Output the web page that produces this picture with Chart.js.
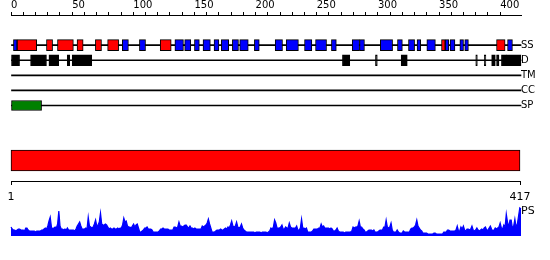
<!DOCTYPE html>
<html>
<head>
<meta charset="utf-8">
<script src="https://cdn.jsdelivr.net/npm/chart.js@4.4.1/dist/chart.umd.min.js"></script>
<style>
  html, body { margin: 0; padding: 0; background: #fff; }
  #wrap { position: relative; width: 550px; height: 260px; }
  canvas { position: absolute; left: 0; }
</style>
</head>
<body>
<div id="wrap">
  <canvas id="tracks" width="550" height="120" style="top:0"></canvas>
  <canvas id="domain" width="550" height="70" style="top:140px"></canvas>
  <canvas id="profile" width="550" height="50" style="top:200px"></canvas>
</div>
<script>
const seqLength = 417;
const trackNames = ['SS', 'D', 'TM', 'CC', 'SP'];
const topTicks = [0, 50, 100, 150, 200, 250, 300, 350, 400];
const bottomTicks = [1, 417];

// secondary structure: [start, end]
const helix = [[5, 21], [29, 34], [38, 51], [54, 59], [69, 74], [79, 88], [122, 131], [352, 355], [397, 404]];
const strand = [[2, 5], [91, 96], [105, 110], [134, 141], [142, 147], [150, 154], [157, 163], [166, 170],
  [172, 178], [181, 186], [187, 194], [199, 203], [216, 222], [225, 235], [240, 246], [249, 258],
  [262, 266], [279, 285], [285, 289], [302, 312], [316, 320], [325, 330], [332, 335], [340, 347],
  [355, 358], [359, 363], [367, 370], [371, 374], [406, 410]];
const disorder = [[0, 7], [16, 29], [31, 39], [46, 48], [50, 66], [271, 277], [298, 299.5], [319, 324],
  [380, 381.3], [387, 388.3], [393, 396], [397, 399], [401, 405], [405, 417]];
const transmembrane = [];
const coiledCoil = [];
const signalPeptide = [[0, 25]];
const domains = [[1, 417]];

// PS profile, one value per residue
const psValues = [
  9, 7, 6, 6, 5, 6, 7, 7, 6, 6,
  6, 5, 8, 8, 6, 5, 5, 5, 5, 5,
  4, 5, 5, 5, 5, 6, 6, 7, 8, 7,
  10, 15, 19, 9, 7, 8, 9, 8, 12, 25,
  10, 7, 7, 6, 7, 6, 8, 6, 6, 6,
  6, 6, 5, 7, 10, 12, 14, 10, 7, 7,
  7, 8, 7, 19, 10, 9, 8, 9, 12, 16,
  10, 11, 14, 23, 12, 11, 11, 12, 11, 9,
  7, 8, 7, 7, 8, 7, 7, 8, 7, 8,
  8, 11, 18, 14, 15, 10, 9, 9, 8, 10,
  12, 9, 11, 12, 8, 4, 4, 5, 6, 8,
  8, 9, 7, 7, 7, 6, 4, 4, 4, 4,
  4, 5, 7, 7, 8, 7, 7, 7, 7, 6,
  6, 6, 6, 9, 9, 8, 9, 14, 10, 10,
  9, 10, 11, 11, 9, 8, 10, 8, 8, 7,
  8, 7, 7, 7, 7, 7, 10, 9, 10, 11,
  13, 17, 12, 8, 4, 4, 4, 5, 6, 6,
  6, 7, 6, 6, 7, 8, 7, 9, 8, 11,
  15, 10, 9, 10, 14, 9, 8, 9, 12, 8,
  6, 5, 4, 4, 4, 4, 4, 4, 4, 3,
  4, 4, 4, 4, 3, 4, 4, 4, 4, 3,
  4, 5, 8, 7, 9, 16, 13, 8, 8, 8,
  9, 11, 7, 7, 9, 8, 8, 13, 9, 8,
  8, 8, 8, 10, 6, 6, 8, 17, 8, 8,
  7, 8, 4, 4, 4, 4, 5, 7, 7, 7,
  7, 8, 8, 12, 9, 10, 8, 8, 8, 8,
  7, 8, 7, 5, 5, 6, 8, 5, 4, 4,
  4, 4, 3, 4, 4, 4, 4, 4, 5, 9,
  8, 9, 9, 10, 15, 9, 9, 7, 6, 4,
  4, 5, 6, 6, 6, 5, 6, 4, 4, 4,
  5, 6, 6, 6, 9, 9, 16, 9, 8, 9,
  13, 6, 4, 4, 4, 6, 4, 3, 3, 3,
  5, 4, 4, 4, 4, 4, 7, 8, 8, 9,
  11, 16, 10, 8, 6, 5, 3, 3, 3, 3,
  2, 2, 2, 2, 2, 3, 3, 2, 2, 2,
  2, 2, 2, 4, 4, 4, 6, 6, 5, 5,
  5, 5, 5, 6, 10, 5, 5, 9, 7, 10,
  6, 5, 7, 7, 6, 7, 10, 6, 5, 6,
  8, 6, 5, 6, 7, 6, 8, 9, 6, 6,
  8, 10, 7, 5, 6, 8, 7, 8, 9, 13,
  8, 7, 11, 9, 22, 14, 9, 16, 16, 8,
  10, 17, 9, 12, 20, 28, 27
];

Chart.defaults.font.family = 'DejaVu Sans';
Chart.defaults.font.size = 10;
Chart.defaults.color = '#000';
Chart.defaults.animation = false;

const noPlugins = { legend: { display: false }, tooltip: { enabled: false } };

function boxes(list, track, colour, thickness) {
  return {
    type: 'bar',
    data: list.map(s => ({ x: s, y: track })),
    backgroundColor: colour,
    borderColor: '#000',
    borderWidth: 1,
    borderSkipped: false,
    barThickness: thickness,
    grouped: false,
    clip: false
  };
}

// feature tracks with the top ruler
new Chart(document.getElementById('tracks'), {
  type: 'bar',
  data: {
    datasets: [
      {
        data: trackNames.map((n, i) => ({ x: [0, seqLength], y: i })),
        backgroundColor: '#000',
        borderWidth: 0,
        barThickness: 1,
        grouped: false,
        clip: false,
        order: 10
      },
      boxes(helix, 0, '#ff0000', 11),
      boxes(strand, 0, '#0000ff', 11),
      boxes(disorder, 1, '#000000', 11),
      boxes(transmembrane, 2, '#ff8000', 11),
      boxes(coiledCoil, 3, '#ff00ff', 11),
      boxes(signalPeptide, 4, '#008000', 10)
    ]
  },
  options: {
    indexAxis: 'y',
    responsive: false,
    devicePixelRatio: 1,
    layout: { padding: { left: 11, right: 0, top: 0, bottom: 14.5 } },
    plugins: noPlugins,
    scales: {
      x: {
        type: 'linear',
        position: 'top',
        min: 0,
        max: seqLength,
        afterBuildTicks: s => {
          const t = [];
          for (let v = topTicks[0]; v <= topTicks[topTicks.length - 1]; v += 10) t.push({ value: v });
          s.ticks = t;
        },
        afterFit: s => { s.height = 15; s.paddingLeft = 0; s.paddingRight = 0; },
        ticks: {
          autoSkip: false, maxRotation: 0, align: 'start', padding: 1,
          callback: v => topTicks.includes(v) ? String(v) : ''
        },
        grid: { drawOnChartArea: false, tickLength: 3, color: '#000' },
        border: { color: '#000' }
      },
      y: {
        type: 'linear',
        position: 'right',
        reverse: true,
        offset: false,
        min: -2,
        max: trackNames.length - 1,
        afterBuildTicks: s => { s.ticks = trackNames.map((n, i) => ({ value: i })); },
        afterFit: s => { s.width = 29; s.paddingTop = 0; s.paddingBottom = 0; },
        ticks: { padding: 0, callback: v => trackNames[v] },
        grid: { display: false, drawTicks: false },
        border: { display: false }
      }
    }
  }
});

// domain bar with the sequence ruler
new Chart(document.getElementById('domain'), {
  type: 'bar',
  data: {
    datasets: [boxes(domains, 0, '#ff0000', 21)]
  },
  options: {
    indexAxis: 'y',
    responsive: false,
    devicePixelRatio: 1,
    layout: { padding: { left: 11, right: 30, top: 0, bottom: 0 } },
    plugins: noPlugins,
    scales: {
      x: {
        type: 'linear',
        position: 'bottom',
        min: bottomTicks[0],
        max: seqLength,
        afterBuildTicks: s => { s.ticks = bottomTicks.map(v => ({ value: v })); },
        afterFit: s => { s.height = 29; s.paddingLeft = 0; s.paddingRight = 0; },
        ticks: { autoSkip: false, maxRotation: 0, padding: 6, font: { size: 11 } },
        grid: { drawOnChartArea: false, tickLength: 4, color: '#000' },
        border: { color: '#000' }
      },
      y: { type: 'linear', offset: false, min: -1, max: 1, display: false }
    }
  }
});

// PS profile
new Chart(document.getElementById('profile'), {
  type: 'line',
  data: {
    datasets: [{
      data: psValues.map((v, i) => ({ x: i + 1, y: v })),
      fill: 'origin',
      backgroundColor: '#0000ff',
      borderColor: '#0000ff',
      borderWidth: 1.2,
      pointRadius: 0,
      tension: 0,
      clip: false
    }]
  },
  options: {
    responsive: false,
    devicePixelRatio: 1,
    layout: { padding: { left: 11, right: 0, top: 5, bottom: 14 } },
    plugins: noPlugins,
    scales: {
      x: { type: 'linear', min: 1, max: seqLength, display: false },
      y: {
        position: 'right',
        min: 0,
        max: 31,
        afterBuildTicks: s => { s.ticks = [{ value: 25 }]; },
        afterFit: s => { s.width = 29; s.paddingTop = 0; s.paddingBottom = 0; },
        ticks: { padding: 0, font: { size: 11 }, callback: () => 'PS' },
        grid: { display: false, drawTicks: false },
        border: { display: false }
      }
    }
  }
});
</script>
</body>
</html>
